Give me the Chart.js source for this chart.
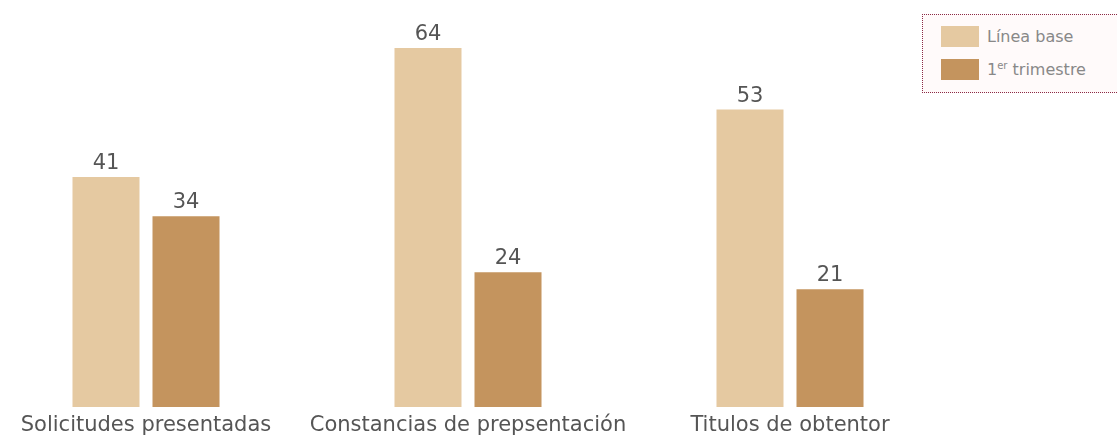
<!DOCTYPE html>
<html>
<head>
<meta charset="utf-8">
<script src="https://cdn.jsdelivr.net/npm/chart.js@4"></script>
<style>
  html, body { margin: 0; padding: 0; background: #fff; }
  #wrap { position: relative; width: 1117px; height: 436px; }
  #leyenda {
    position: absolute; left: 922px; top: 14px; width: 194px; height: 77px;
    border: 1px dotted #8c2a45; border-right: none; background: #fffafa;
    font-family: "DejaVu Sans", sans-serif; font-size: 16px; color: #888;
  }
  .item { position: absolute; left: 18px; height: 21px; line-height: 21px; white-space: nowrap; }
  .item span.sw { display: inline-block; width: 38px; height: 21px; vertical-align: top; margin-right: 8px; }
  .item sup { font-size: 10px; line-height: 0; }
</style>
</head>
<body>
<div id="wrap">
  <canvas id="grafica" width="1117" height="436"></canvas>
  <div id="leyenda"></div>
</div>
<script>
// Datos
const categorias = ['Solicitudes presentadas', 'Constancias de prepsentación', 'Titulos de obtentor'];
const lineaBase = [41, 64, 53];
const primerTrimestre = [34, 24, 21];
const series = ['Línea base', '1<sup>er</sup> trimestre'];
const colores = ['#e5c9a1', '#c4945e'];

// Leyenda en HTML
const leyenda = document.getElementById('leyenda');
series.forEach((nombre, i) => {
    const div = document.createElement('div');
    div.className = 'item';
    div.style.top = (11 + i * 33) + 'px';
    div.innerHTML = '<span class="sw" style="background:' + colores[i] + '"></span>' + nombre;
    leyenda.appendChild(div);
});

// Etiquetas de valor sobre las barras
const etiquetas = {
    id: 'etiquetas',
    afterDatasetsDraw(chart) {
        const ctx = chart.ctx;
        ctx.save();
        ctx.font = '21px "DejaVu Sans", sans-serif';
        ctx.fillStyle = '#555';
        ctx.textAlign = 'center';
        ctx.textBaseline = 'alphabetic';
        chart.data.datasets.forEach((ds, i) => {
            chart.getDatasetMeta(i).data.forEach((bar, j) => {
                ctx.fillText(ds.data[j], bar.x, bar.y - 8);
            });
        });
        ctx.restore();
    }
};

new Chart(document.getElementById('grafica'), {
    type: 'bar',
    data: {
        labels: categorias,
        datasets: [
            { label: 'Línea base', data: lineaBase, backgroundColor: colores[0], clip: false },
            { label: '1er trimestre', data: primerTrimestre, backgroundColor: colores[1], clip: false }
        ]
    },
    options: {
        responsive: false,
        animation: false,
        categoryPercentage: 0.497,
        barPercentage: 0.8375,
        layout: { padding: { left: 146, right: 327, top: 3, bottom: 0 } },
        plugins: { legend: { display: false }, tooltip: { enabled: false } },
        scales: {
            x: {
                offset: false,
                grid: { display: false },
                border: { display: false },
                afterFit: (scale) => { scale.height = 29; },
                ticks: {
                    color: '#555',
                    font: { family: 'DejaVu Sans', size: 21, lineHeight: 1 },
                    padding: 0,
                    maxRotation: 0,
                    autoSkip: false
                }
            },
            y: {
                display: false,
                min: 0,
                max: 72
            }
        }
    },
    plugins: [etiquetas]
});
</script>
</body>
</html>
